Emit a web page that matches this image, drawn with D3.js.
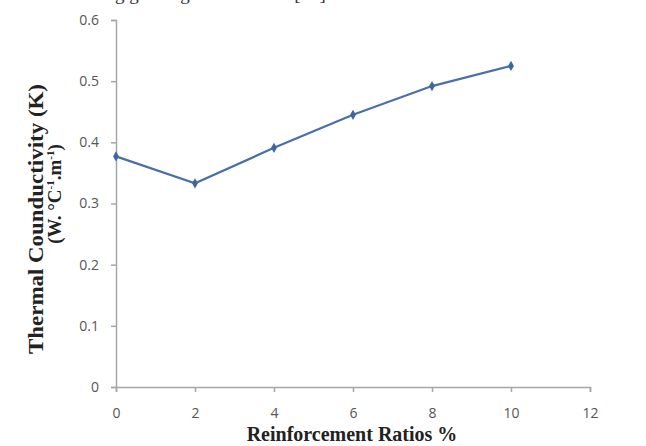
<html>
<head>
<script src="https://d3js.org/d3.v7.min.js"></script>
<style>
body { margin: 0; background: white; }
.tick text { font-family: "Open Sans", "Liberation Sans", sans-serif; font-size: 14px; fill: #555; }
.title { font-family: "Liberation Serif", "Times New Roman", serif; font-weight: bold; fill: #222; }
</style>
</head>
<body>
<svg width="646" height="446"></svg>
<script>
// data
var ratios = [0, 2, 4, 6, 8, 10];
var conductivity = [0.377, 0.333, 0.391, 0.445, 0.492, 0.525];
var xTicks = [0, 2, 4, 6, 8, 10, 12];
var yTicks = [0, 0.1, 0.2, 0.3, 0.4, 0.5, 0.6];

var svg = d3.select("svg");

var x = d3.scaleLinear().domain([0, 12]).range([116, 590]);
var y = d3.scaleLinear().domain([0, 0.6]).range([387, 20]);

// clipped caption line from the page above
svg.append("text")
  .attr("x", 60).attr("y", 0)
  .attr("font-family", "Liberation Serif, serif")
  .attr("font-size", 19)
  .attr("fill", "#333")
  .text("showing good agreement with [15].");

var axisColor = "#a6a6a6";

svg.append("g")
  .attr("transform", "translate(116,0)")
  .call(d3.axisLeft(y).tickValues(yTicks).tickSize(5).tickPadding(12)
    .tickFormat(function(d) { return d === 0 ? "0" : d3.format(".1f")(d); }))
  .call(function(g) {
    g.select(".domain").attr("stroke", axisColor).attr("stroke-width", 1.5);
    g.selectAll(".tick line").attr("stroke", axisColor).attr("stroke-width", 1.5);
  });

svg.append("g")
  .attr("transform", "translate(0,387)")
  .call(d3.axisBottom(x).tickValues(xTicks).tickSize(5).tickPadding(16).tickFormat(d3.format("d")))
  .call(function(g) {
    g.select(".domain").attr("stroke", axisColor).attr("stroke-width", 1.5);
    g.selectAll(".tick line").attr("stroke", axisColor).attr("stroke-width", 1.5);
  });

var pts = ratios.map(function(r, i) { return [r, conductivity[i]]; });

svg.append("path")
  .datum(pts)
  .attr("fill", "none")
  .attr("stroke", "#4a6fa8")
  .attr("stroke-width", 2.2)
  .attr("d", d3.line().x(function(d) { return x(d[0]); }).y(function(d) { return y(d[1]); }));

svg.selectAll(".marker")
  .data(pts)
  .enter()
  .append("path")
  .attr("class", "marker")
  .attr("transform", function(d) { return "translate(" + x(d[0]) + "," + y(d[1]) + ")"; })
  .attr("d", d3.symbol().type(d3.symbolDiamond).size(30))
  .attr("fill", "#3f66a0");

// axis titles
svg.append("text")
  .attr("class", "title")
  .attr("x", 352).attr("y", 441)
  .attr("text-anchor", "middle")
  .attr("font-size", 20)
  .text("Reinforcement Ratios %");

svg.append("text")
  .attr("class", "title")
  .attr("transform", "translate(43,219) rotate(-90)")
  .attr("text-anchor", "middle")
  .attr("font-size", 22)
  .attr("textLength", 270)
  .attr("lengthAdjust", "spacingAndGlyphs")
  .text("Thermal Counductivity (K)");

var t2 = svg.append("text")
  .attr("class", "title")
  .attr("transform", "translate(61,194) rotate(-90)")
  .attr("text-anchor", "middle")
  .attr("font-size", 19);
t2.append("tspan").text("(W. °C");
t2.append("tspan").attr("dy", -7).attr("font-size", 11).text("-1");
t2.append("tspan").attr("dy", 7).text(".m");
t2.append("tspan").attr("dy", -7).attr("font-size", 11).text("-1");
t2.append("tspan").attr("dy", 7).text(")");
</script>
</body>
</html>
